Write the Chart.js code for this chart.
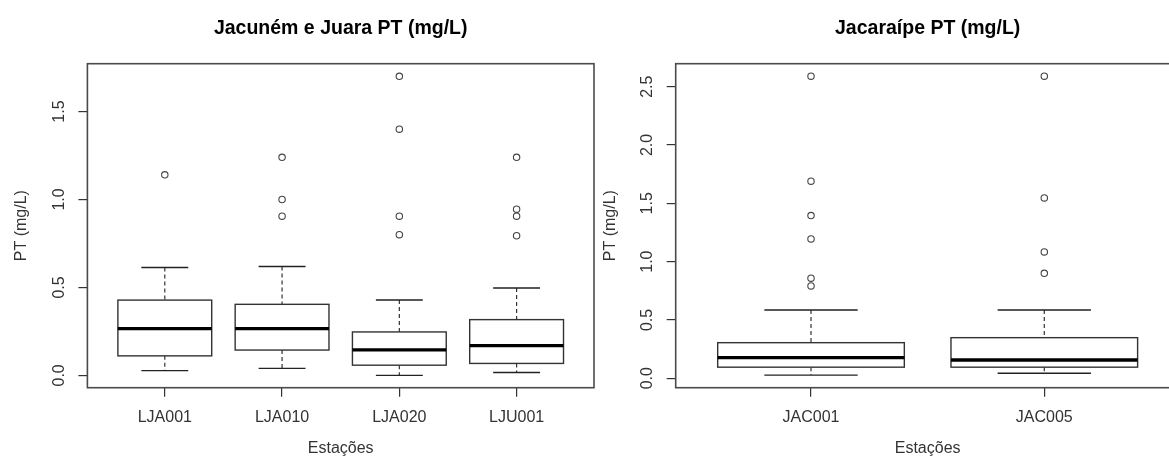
<!DOCTYPE html>
<html><head><meta charset="utf-8">
<script src="https://cdn.jsdelivr.net/npm/chart.js@4.4.1/dist/chart.umd.min.js"></script>
<style>
html,body{margin:0;padding:0;background:#fff;overflow:hidden;}
#wrap{position:relative;width:1169px;height:463px;overflow:hidden;background:#fff;}
canvas{position:absolute;top:0;}
</style></head><body>
<div id="wrap">
<canvas id="c1" width="600" height="463" style="left:0px"></canvas>
<canvas id="c2" width="600" height="463" style="left:590px"></canvas>
</div>
<script>
// ---- Panel 1: Jacuném e Juara ----
const titleJJ = 'Jacuném e Juara PT (mg/L)';
const catsJJ = ['LJA001', 'LJA010', 'LJA020', 'LJU001'];
const lowJJ  = [0.027, 0.040, 0.000, 0.016];
const q1JJ   = [0.111, 0.144, 0.058, 0.068];
const medJJ  = [0.266, 0.266, 0.145, 0.169];
const q3JJ   = [0.428, 0.404, 0.247, 0.317];
const highJJ = [0.613, 0.619, 0.429, 0.497];
const outJJ  = [[1.14], [1.24, 1.00, 0.905], [1.70, 1.40, 0.905, 0.80], [1.24, 0.945, 0.905, 0.794]];
const yTicksJJ = [0, 0.5, 1.0, 1.5];
const yTickLabelsJJ = ['0.0', '0.5', '1.0', '1.5'];

// ---- Panel 2: Jacaraípe ----
const titleJAC = 'Jacaraípe PT (mg/L)';
const catsJAC = ['JAC001', 'JAC005'];
const lowJAC  = [0.027, 0.043];
const q1JAC   = [0.095, 0.095];
const medJAC  = [0.177, 0.156];
const q3JAC   = [0.305, 0.348];
const highJAC = [0.585, 0.585];
const outJAC  = [[2.59, 1.69, 1.395, 1.195, 0.858, 0.792], [2.59, 1.546, 1.083, 0.90]];
const yTicksJAC = [0, 0.5, 1.0, 1.5, 2.0, 2.5];
const yTickLabelsJAC = ['0.0', '0.5', '1.0', '1.5', '2.0', '2.5'];

const yLabel = 'PT (mg/L)';
const xLabel = 'Estações';
const FONT = '"Liberation Sans", Arial, Helvetica, sans-serif';

function boxPlugin(cats, low, q1, med, q3, high, yTickLabels) {
  return {
    id: 'rbox',
    beforeDatasetsDraw(chart) {
      const {ctx, scales: {x, y}} = chart;
      ctx.save();
      cats.forEach((c, i) => {
        const cx = x.getPixelForValue(i + 1);
        const hw = x.getPixelForValue(i + 1.4) - cx;
        const cw = hw / 2;
        const yLo = y.getPixelForValue(low[i]);
        const yQ1 = y.getPixelForValue(q1[i]);
        const yMd = y.getPixelForValue(med[i]);
        const yQ3 = y.getPixelForValue(q3[i]);
        const yHi = y.getPixelForValue(high[i]);
        ctx.strokeStyle = '#333';
        ctx.lineWidth = 1.2;
        ctx.setLineDash([4, 3]);
        ctx.beginPath();
        ctx.moveTo(cx, yHi); ctx.lineTo(cx, yQ3);
        ctx.moveTo(cx, yQ1); ctx.lineTo(cx, yLo);
        ctx.stroke();
        ctx.setLineDash([]);
        ctx.lineWidth = 1.4;
        ctx.strokeStyle = '#222';
        ctx.beginPath();
        ctx.moveTo(cx - cw, yHi); ctx.lineTo(cx + cw, yHi);
        ctx.moveTo(cx - cw, yLo); ctx.lineTo(cx + cw, yLo);
        ctx.stroke();
        ctx.fillStyle = '#fff';
        ctx.fillRect(cx - hw, yQ3, 2 * hw, yQ1 - yQ3);
        ctx.strokeStyle = '#333';
        ctx.strokeRect(cx - hw, yQ3, 2 * hw, yQ1 - yQ3);
        ctx.lineWidth = 3.4;
        ctx.strokeStyle = '#000';
        ctx.beginPath();
        ctx.moveTo(cx - hw, yMd); ctx.lineTo(cx + hw, yMd);
        ctx.stroke();
      });
      ctx.restore();
    },
    afterDraw(chart) {
      const {ctx, chartArea: a, scales: {y}} = chart;
      ctx.save();
      ctx.strokeStyle = '#4a4a4a';
      ctx.lineWidth = 1.6;
      ctx.strokeRect(a.left, a.top, a.right - a.left, a.bottom - a.top);
      ctx.font = '16px ' + FONT;
      ctx.fillStyle = '#333';
      ctx.textAlign = 'center';
      ctx.textBaseline = 'middle';
      y.ticks.forEach((t, i) => {
        const py = y.getPixelForValue(t.value);
        ctx.save();
        ctx.translate(a.left - 28, py);
        ctx.rotate(-Math.PI / 2);
        ctx.fillText(yTickLabels[i], 0, 0);
        ctx.restore();
      });
      ctx.restore();
    }
  };
}

function makeChart(id, title, cats, low, q1, med, q3, high, outs, yTicks, yTickLabels, yMin, yMax, axisW, padRight, yTitleOff) {
  const n = cats.length;
  const pad = 0.5 + 0.04 * n;
  const pts = [];
  outs.forEach((arr, i) => arr.forEach(v => pts.push({x: i + 1, y: v})));
  return new Chart(document.getElementById(id), {
    type: 'scatter',
    data: {
      datasets: [{
        data: pts,
        pointRadius: 3.2,
        pointBorderWidth: 1.1,
        pointBorderColor: '#444',
        pointBackgroundColor: 'rgba(0,0,0,0)',
        showLine: false
      }]
    },
    options: {
      responsive: false,
      animation: false,
      events: [],
      devicePixelRatio: 1,
      layout: {padding: {left: 0, right: padRight, top: 0, bottom: 0}},
      plugins: {
        legend: {display: false},
        tooltip: {enabled: false},
        title: {
          display: true, text: title, fullSize: false, color: '#000',
          font: {family: FONT, size: 19.5, weight: 'bold'},
          padding: {top: 16.7, bottom: 23.6}
        }
      },
      scales: {
        x: {
          type: 'linear', min: 1 - pad, max: n + pad,
          afterBuildTicks: s => { s.ticks = cats.map((c, i) => ({value: i + 1})); },
          afterFit: s => { s.height = 75.3; },
          ticks: {
            callback: v => cats[Math.round(v) - 1],
            autoSkip: false, maxRotation: 0, minRotation: 0,
            padding: 11.5, color: '#333', font: {family: FONT, size: 16}
          },
          grid: {display: true, drawOnChartArea: false, drawTicks: true, tickLength: 9, color: '#333', lineWidth: 1.2},
          border: {display: false},
          title: {display: true, text: xLabel, color: '#333', font: {family: FONT, size: 16}, padding: {top: 0, bottom: 4.4}}
        },
        y: {
          type: 'linear', min: yMin, max: yMax,
          afterBuildTicks: s => { s.ticks = yTicks.map(v => ({value: v})); },
          afterFit: s => { s.width = axisW; },
          ticks: {display: false},
          grid: {display: true, drawOnChartArea: false, drawTicks: true, tickLength: 9, color: '#333', lineWidth: 1.2},
          border: {display: false},
          title: {display: true, text: yLabel, color: '#333', font: {family: FONT, size: 16}, padding: {top: yTitleOff, bottom: 0}}
        }
      }
    },
    plugins: [boxPlugin(cats, low, q1, med, q3, high, yTickLabels)]
  });
}

makeChart('c1', titleJJ, catsJJ, lowJJ, q1JJ, medJJ, q3JJ, highJJ, outJJ, yTicksJJ, yTickLabelsJJ, -0.07, 1.772, 87.4, 6, 12.4);
makeChart('c2', titleJAC, catsJAC, lowJAC, q1JAC, medJAC, q3JAC, highJAC, outJAC, yTicksJAC, yTickLabelsJAC, -0.081, 2.697, 85.7, 10.4, 11.4);
</script>
</body></html>
